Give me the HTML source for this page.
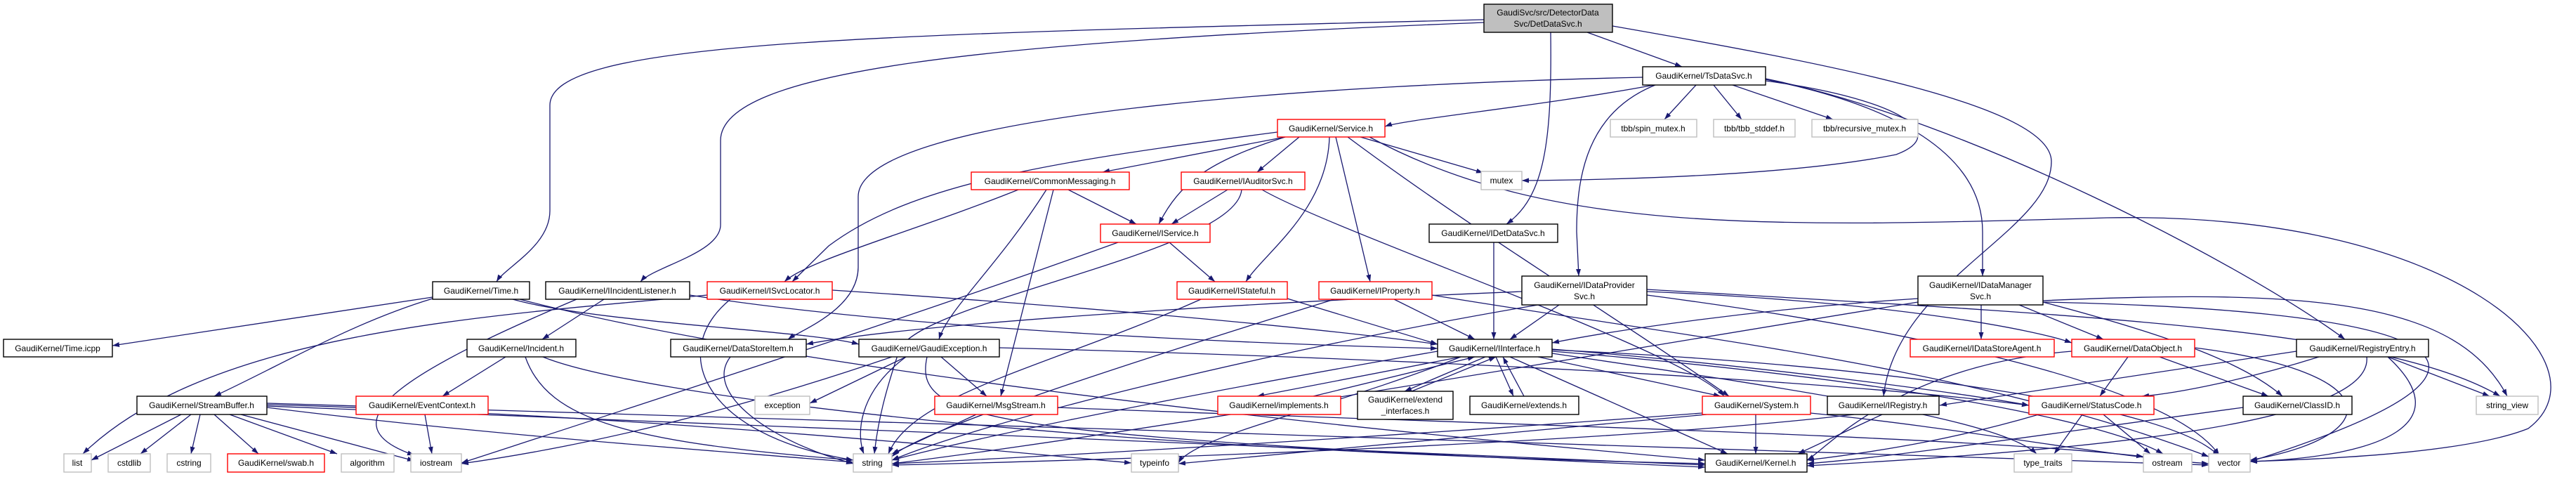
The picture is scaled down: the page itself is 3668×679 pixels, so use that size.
<!DOCTYPE html>
<html><head><meta charset="utf-8"><style>
html,body{margin:0;padding:0;background:#fff;}
svg{display:block;}
text{font-family:"Liberation Sans",sans-serif;font-size:12px;fill:#000;text-anchor:middle;}
.e{fill:none;stroke:#191970;stroke-width:1.3;marker-end:url(#a);}
.b{fill:#fff;stroke:#000;stroke-width:1.4;}
.r{fill:#fff;stroke:#ff0000;stroke-width:1.4;}
.g{fill:#fff;stroke:#bfbfbf;stroke-width:1.4;}
</style></head><body>
<svg width="3668" height="679" viewBox="0 0 3668 679" xmlns="http://www.w3.org/2000/svg">
<defs><marker id="a" markerUnits="userSpaceOnUse" markerWidth="11" markerHeight="8" refX="10" refY="3.5" orient="auto"><path d="M0,0 L10,3.5 L0,7 z" fill="#191970"/></marker></defs>
<g>
<path class="e" d="M2260,46 L2395,95"/>
<path class="e" d="M2113,28 C1200,50 783,60 783,150 L783,300 C783,350 720,380 707,401"/>
<path class="e" d="M2113,32 C1400,60 1026,100 1026,200 L1026,320 C1026,360 930,380 912,401"/>
<path class="e" d="M2208,46 C2210,200 2200,280 2145,319"/>
<path class="e" d="M2296,37 C2600,90 2921,150 2921,230 C2921,330 2700,400 2682,564"/>
<path class="e" d="M2355,121 C2200,150 2000,170 1972,180"/>
<path class="e" d="M2415,121 L2370,170"/>
<path class="e" d="M2440,121 L2480,170"/>
<path class="e" d="M2467,121 L2610,170"/>
<path class="e" d="M2514,115 C2700,140 2780,190 2700,220 C2550,250 2300,256 2167,257"/>
<path class="e" d="M2357,121 C2260,160 2245,250 2245,330 L2248,393"/>
<path class="e" d="M2514,113 C2700,150 2823,220 2823,330 L2823,393"/>
<path class="e" d="M2514,112 C2800,170 3200,380 3339,483"/>
<path class="e" d="M2339,110 C1900,120 1222,160 1222,280 L1222,380 C1222,440 1140,470 1122,483"/>
<path class="e" d="M1830,195 L1570,245"/>
<path class="e" d="M1850,195 L1790,245"/>
<path class="e" d="M1830,195 C1720,230 1680,260 1650,319"/>
<path class="e" d="M1819,188 C1500,230 1300,260 1180,350 L1128,401"/>
<path class="e" d="M1893,195 C1890,300 1800,360 1774,401"/>
<path class="e" d="M1902,195 L1951,401"/>
<path class="e" d="M1919,195 C2100,330 2300,450 2462,564"/>
<path class="e" d="M1937,195 L2112,246"/>
<path class="e" d="M1950,195 C2200,330 2500,325 3000,310 C3500,300 3720,520 3600,610 C3500,650 3250,655 3204,657"/>
<path class="e" d="M1521,270 L1618,319"/>
<path class="e" d="M1450,270 C1300,330 1150,370 1117,401"/>
<path class="e" d="M1490,270 C1420,380 1350,440 1337,483"/>
<path class="e" d="M1500,270 L1425,564"/>
<path class="e" d="M1748,270 L1668,319"/>
<path class="e" d="M1768,270 C1760,360 1300,430 1280,500 C1260,560 1250,600 1245,646"/>
<path class="e" d="M1797,270 C1900,330 2400,500 2455,564"/>
<path class="e" d="M1665,345 L1730,401"/>
<path class="e" d="M1592,345 C1300,450 900,580 657,659"/>
<path class="e" d="M2127,345 L2127,483"/>
<path class="e" d="M616,423 L160,492"/>
<path class="e" d="M616,425 C500,460 400,520 305,564"/>
<path class="e" d="M730,426 C850,460 1150,470 1223,490"/>
<path class="e" d="M740,426 C1100,520 1800,600 2428,655"/>
<path class="e" d="M982,420 C1300,470 1800,490 2047,496"/>
<path class="e" d="M860,426 L772,483"/>
<path class="e" d="M821,426 C600,520 450,600 590,648"/>
<path class="e" d="M1007,420 C700,450 300,470 118,646"/>
<path class="e" d="M720,508 L630,564"/>
<path class="e" d="M748,508 C780,600 900,630 1215,655"/>
<path class="e" d="M773,508 C900,560 1500,640 2428,660"/>
<path class="e" d="M258,590 L130,655"/>
<path class="e" d="M272,590 L200,646"/>
<path class="e" d="M285,590 L272,646"/>
<path class="e" d="M305,590 L368,646"/>
<path class="e" d="M327,590 L480,646"/>
<path class="e" d="M343,590 L590,656"/>
<path class="e" d="M380,580 C700,620 1000,640 1215,658"/>
<path class="e" d="M380,578 C900,600 2000,640 2428,662"/>
<path class="e" d="M380,576 C900,590 1400,640 1611,659"/>
<path class="e" d="M380,574 C1200,600 2600,640 3145,662"/>
<path class="e" d="M605,590 L615,646"/>
<path class="e" d="M1040,508 C1000,560 1100,630 1215,660"/>
<path class="e" d="M1290,508 L1153,574"/>
<path class="e" d="M1290,508 C1220,560 1220,620 1230,646"/>
<path class="e" d="M1340,508 L1405,564"/>
<path class="e" d="M1320,508 C1300,600 1400,620 2428,665"/>
<path class="e" d="M1423,495 C2000,510 2600,540 2889,577"/>
<path class="e" d="M1270,508 C1000,600 800,640 657,660"/>
<path class="e" d="M1390,590 L1270,646"/>
<path class="e" d="M1506,580 C2000,600 2800,620 3052,650"/>
<path class="e" d="M1833,425 L2047,490"/>
<path class="e" d="M1710,426 C1500,520 1300,560 1265,646"/>
<path class="e" d="M1185,413 C1600,440 1900,470 2047,490"/>
<path class="e" d="M1040,426 C950,500 1000,620 1215,655"/>
<path class="e" d="M1985,426 L2100,483"/>
<path class="e" d="M1900,426 C1500,550 1300,620 1270,650"/>
<path class="e" d="M2039,420 C2400,480 2800,520 3145,650"/>
<path class="e" d="M2220,434 L2150,483"/>
<path class="e" d="M2167,415 C1800,430 1300,460 1148,490"/>
<path class="e" d="M2190,434 C1800,500 1400,600 1270,655"/>
<path class="e" d="M2345,415 C2700,430 2900,470 2950,488"/>
<path class="e" d="M2345,412 C3000,450 3400,470 3560,564"/>
<path class="e" d="M2345,420 C2800,480 3100,560 3160,648"/>
<path class="e" d="M2731,425 C2500,440 2300,470 2210,488"/>
<path class="e" d="M2821,434 L2821,483"/>
<path class="e" d="M2875,434 L2995,483"/>
<path class="e" d="M2909,430 C3100,480 3200,520 3250,564"/>
<path class="e" d="M2909,428 C3300,410 3500,430 3570,564"/>
<path class="e" d="M2909,430 C3400,440 3700,500 3204,657"/>
<path class="e" d="M2731,430 C2300,500 1600,620 1270,660"/>
<path class="e" d="M2150,508 L2460,646"/>
<path class="e" d="M2190,508 L2450,564"/>
<path class="e" d="M2080,508 C1900,580 1700,620 1678,659"/>
<path class="e" d="M2210,500 C2700,540 3000,600 3080,646"/>
<path class="e" d="M2210,497 C2500,520 2800,560 2889,577"/>
<path class="e" d="M2210,503 C2600,560 2850,600 2900,646"/>
<path class="e" d="M2210,498 C2700,520 3100,580 3160,650"/>
<path class="e" d="M2047,500 C1700,560 1400,620 1270,655"/>
<path class="e" d="M1870,564 L2100,508"/>
<path class="e" d="M2080,508 L1790,564"/>
<path class="e" d="M2010,557 L2130,508"/>
<path class="e" d="M2115,508 L2000,557"/>
<path class="e" d="M2170,564 L2140,508"/>
<path class="e" d="M2130,508 L2155,564"/>
<path class="e" d="M2500,590 L2500,646"/>
<path class="e" d="M2424,588 C2000,620 1500,650 1270,660"/>
<path class="e" d="M2430,590 C2100,620 1800,650 1678,660"/>
<path class="e" d="M2578,588 C2800,610 3000,650 3145,660"/>
<path class="e" d="M2680,590 L2560,646"/>
<path class="e" d="M2640,590 C2300,630 1600,655 1270,662"/>
<path class="e" d="M3030,508 L2990,564"/>
<path class="e" d="M3075,508 L3230,564"/>
<path class="e" d="M3125,495 C3400,530 3400,620 3204,655"/>
<path class="e" d="M2950,500 C2700,520 2600,640 2573,655"/>
<path class="e" d="M3302,508 C3200,540 3100,560 3050,564"/>
<path class="e" d="M3270,500 C3000,540 2800,570 2762,577"/>
<path class="e" d="M3400,508 L3545,564"/>
<path class="e" d="M3400,508 C3500,600 3400,650 3204,657"/>
<path class="e" d="M3370,508 C3380,600 3000,640 2573,663"/>
<path class="e" d="M2965,590 L2925,646"/>
<path class="e" d="M2995,590 L3062,646"/>
<path class="e" d="M2903,590 C2800,620 2700,640 2573,655"/>
<path class="e" d="M3194,580 C2900,620 2700,650 2573,660"/>
</g>
<g>
<rect x="2113" y="6" width="183" height="40" fill="#bfbfbf" stroke="#000" stroke-width="1.4"/>
<text x="2204" y="22">GaudiSvc/src/DetectorData</text><text x="2204" y="38">Svc/DetDataSvc.h</text>
<rect class="b" x="2339" y="95" width="175" height="26"/><text x="2426" y="112">GaudiKernel/TsDataSvc.h</text>
<rect class="r" x="1819" y="170" width="153" height="25"/><text x="1895" y="187">GaudiKernel/Service.h</text>
<rect class="g" x="2293" y="170" width="123" height="25"/><text x="2354" y="187">tbb/spin_mutex.h</text>
<rect class="g" x="2440" y="170" width="116" height="25"/><text x="2498" y="187">tbb/tbb_stddef.h</text>
<rect class="g" x="2580" y="170" width="151" height="25"/><text x="2655" y="187">tbb/recursive_mutex.h</text>
<rect class="r" x="1383" y="245" width="225" height="25"/><text x="1495" y="262">GaudiKernel/CommonMessaging.h</text>
<rect class="r" x="1682" y="245" width="176" height="25"/><text x="1770" y="262">GaudiKernel/IAuditorSvc.h</text>
<rect class="g" x="2109" y="244" width="58" height="26"/><text x="2138" y="261">mutex</text>
<rect class="r" x="1567" y="319" width="156" height="26"/><text x="1645" y="336">GaudiKernel/IService.h</text>
<rect class="b" x="2035" y="319" width="183" height="26"/><text x="2126" y="336">GaudiKernel/IDetDataSvc.h</text>
<rect class="b" x="616" y="401" width="138" height="25"/><text x="685" y="418">GaudiKernel/Time.h</text>
<rect class="b" x="777" y="401" width="205" height="25"/><text x="879" y="418">GaudiKernel/IIncidentListener.h</text>
<rect class="r" x="1007" y="401" width="178" height="25"/><text x="1096" y="418">GaudiKernel/ISvcLocator.h</text>
<rect class="r" x="1676" y="401" width="157" height="25"/><text x="1754" y="418">GaudiKernel/IStateful.h</text>
<rect class="r" x="1878" y="401" width="161" height="25"/><text x="1958" y="418">GaudiKernel/IProperty.h</text>
<rect class="b" x="2167" y="393" width="178" height="41"/><text x="2256" y="410">GaudiKernel/IDataProvider</text><text x="2256" y="426">Svc.h</text>
<rect class="b" x="2731" y="393" width="178" height="41"/><text x="2820" y="410">GaudiKernel/IDataManager</text><text x="2820" y="426">Svc.h</text>
<rect class="b" x="5" y="483" width="155" height="25"/><text x="82" y="500">GaudiKernel/Time.icpp</text>
<rect class="b" x="665" y="483" width="155" height="25"/><text x="742" y="500">GaudiKernel/Incident.h</text>
<rect class="b" x="955" y="483" width="193" height="25"/><text x="1051" y="500">GaudiKernel/DataStoreItem.h</text>
<rect class="b" x="1223" y="483" width="200" height="25"/><text x="1323" y="500">GaudiKernel/GaudiException.h</text>
<rect class="b" x="2047" y="483" width="163" height="25"/><text x="2128" y="500">GaudiKernel/IInterface.h</text>
<rect class="r" x="2720" y="483" width="205" height="25"/><text x="2822" y="500">GaudiKernel/IDataStoreAgent.h</text>
<rect class="r" x="2950" y="483" width="175" height="25"/><text x="3037" y="500">GaudiKernel/DataObject.h</text>
<rect class="b" x="3270" y="483" width="188" height="25"/><text x="3364" y="500">GaudiKernel/RegistryEntry.h</text>
<rect class="b" x="195" y="564" width="185" height="26"/><text x="287" y="581">GaudiKernel/StreamBuffer.h</text>
<rect class="r" x="507" y="564" width="188" height="26"/><text x="601" y="581">GaudiKernel/EventContext.h</text>
<rect class="g" x="1075" y="564" width="78" height="26"/><text x="1114" y="581">exception</text>
<rect class="r" x="1331" y="564" width="175" height="26"/><text x="1418" y="581">GaudiKernel/MsgStream.h</text>
<rect class="r" x="1734" y="564" width="175" height="26"/><text x="1821" y="581">GaudiKernel/implements.h</text>
<rect class="b" x="1933" y="557" width="136" height="40"/><text x="2001" y="573">GaudiKernel/extend</text><text x="2001" y="589">_interfaces.h</text>
<rect class="b" x="2093" y="564" width="155" height="26"/><text x="2170" y="581">GaudiKernel/extends.h</text>
<rect class="r" x="2424" y="564" width="154" height="26"/><text x="2501" y="581">GaudiKernel/System.h</text>
<rect class="b" x="2602" y="564" width="159" height="26"/><text x="2681" y="581">GaudiKernel/IRegistry.h</text>
<rect class="r" x="2889" y="564" width="178" height="26"/><text x="2978" y="581">GaudiKernel/StatusCode.h</text>
<rect class="b" x="3194" y="564" width="155" height="26"/><text x="3271" y="581">GaudiKernel/ClassID.h</text>
<rect class="g" x="3526" y="564" width="88" height="26"/><text x="3570" y="581">string_view</text>
<rect class="g" x="91" y="646" width="39" height="26"/><text x="110" y="663">list</text>
<rect class="g" x="154" y="646" width="60" height="26"/><text x="184" y="663">cstdlib</text>
<rect class="g" x="238" y="646" width="62" height="26"/><text x="269" y="663">cstring</text>
<rect class="r" x="324" y="646" width="138" height="26"/><text x="393" y="663">GaudiKernel/swab.h</text>
<rect class="g" x="486" y="646" width="75" height="26"/><text x="523" y="663">algorithm</text>
<rect class="g" x="585" y="646" width="72" height="26"/><text x="621" y="663">iostream</text>
<rect class="g" x="1215" y="646" width="55" height="26"/><text x="1242" y="663">string</text>
<rect class="g" x="1611" y="646" width="67" height="26"/><text x="1644" y="663">typeinfo</text>
<rect class="b" x="2428" y="646" width="145" height="26"/><text x="2500" y="663">GaudiKernel/Kernel.h</text>
<rect class="g" x="2868" y="646" width="82" height="26"/><text x="2909" y="663">type_traits</text>
<rect class="g" x="3052" y="646" width="69" height="26"/><text x="3086" y="663">ostream</text>
<rect class="g" x="3145" y="646" width="59" height="26"/><text x="3174" y="663">vector</text>
</g>
</svg>
</body></html>
